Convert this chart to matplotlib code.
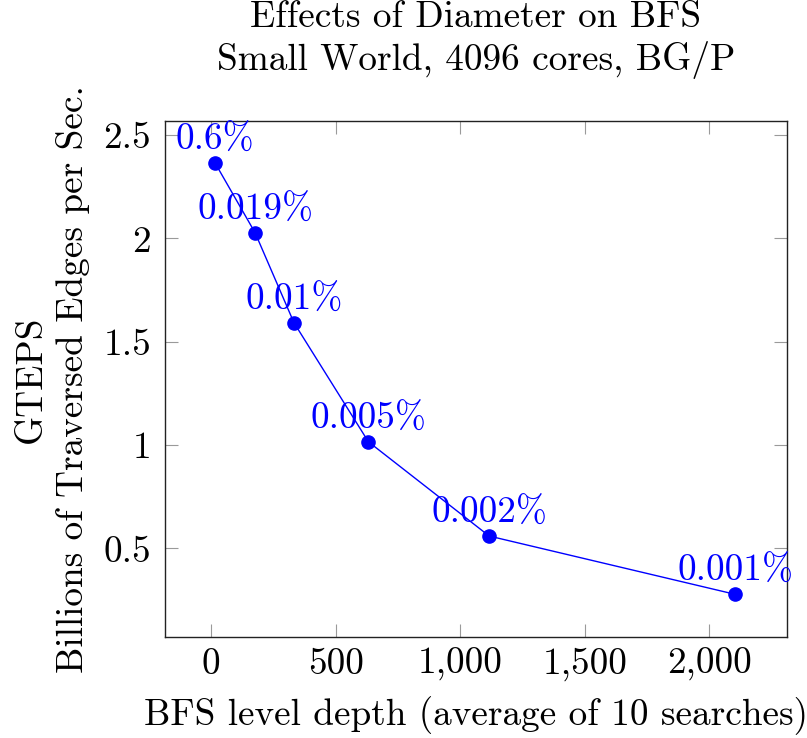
import matplotlib
matplotlib.use("Agg")
import matplotlib.pyplot as plt

plt.rcParams['font.family'] = ['cmr10', 'DejaVu Serif']
plt.rcParams['mathtext.fontset'] = 'cm'
plt.rcParams['axes.unicode_minus'] = False

# Data
depth = [16, 176, 332, 631, 1116, 2104]
gteps = [2.363, 2.027, 1.592, 1.016, 0.560, 0.278]
pct_labels = ["0.6%", "0.019%", "0.01%", "0.005%", "0.002%", "0.001%"]

x_ticks = [0, 500, 1000, 1500, 2000]
x_tick_labels = ["0", "500", "1,000", "1,500", "2,000"]
y_ticks = [0.5, 1.0, 1.5, 2.0, 2.5]
y_tick_labels = ["0.5", "1", "1.5", "2", "2.5"]

title = "Effects of Diameter on BFS\nSmall World, 4096 cores, BG/P"
xlabel = "BFS level depth (average of 10 searches)"
ylabel = "GTEPS\nBillions of Traversed Edges per Sec."

FS = 26.8
blue = '#0000ff'

fig = plt.figure(figsize=(8.07, 7.38), dpi=100)
ax = fig.add_axes([165/807, 1 - 636.7/738, (786.7-165)/807, (636.7-121)/738])

ax.plot(depth, gteps, color=blue, lw=1.0, marker='o', markersize=9.5,
        markerfacecolor=blue, markeredgecolor=blue, zorder=3)
for x, y, t in zip(depth, gteps, pct_labels):
    ax.annotate(t, (x, y), xytext=(0, 9.4), textcoords='offset points',
                ha='center', va='baseline', color=blue, fontsize=FS, zorder=4)

ax.set_xlim(-186, 2311)
ax.set_ylim(0.073, 2.568)
ax.set_xticks(x_ticks)
ax.set_xticklabels(x_tick_labels)
ax.set_yticks(y_ticks)
ax.set_yticklabels(y_tick_labels)

ax.tick_params(axis='both', which='both', direction='in', length=9.4, width=0.8,
               color='#9a9a9a', labelsize=FS, top=True, right=True)
ax.tick_params(axis='y', pad=10)
ax.tick_params(axis='x', pad=8)
for s in ax.spines.values():
    s.set_linewidth(1.0)
    s.set_color('#222222')

fig.text(476/807, 1 - 40/738, title, ha='center', va='center', fontsize=FS,
         linespacing=1.22)
fig.text(476/807, 1 - 716/738, xlabel, ha='center', va='center', fontsize=FS)
fig.text(52/807, 1 - 379/738, ylabel, ha='center', va='center', fontsize=FS,
         rotation=90, multialignment='center', linespacing=1.3)

fig.savefig("out.png", dpi=100)
